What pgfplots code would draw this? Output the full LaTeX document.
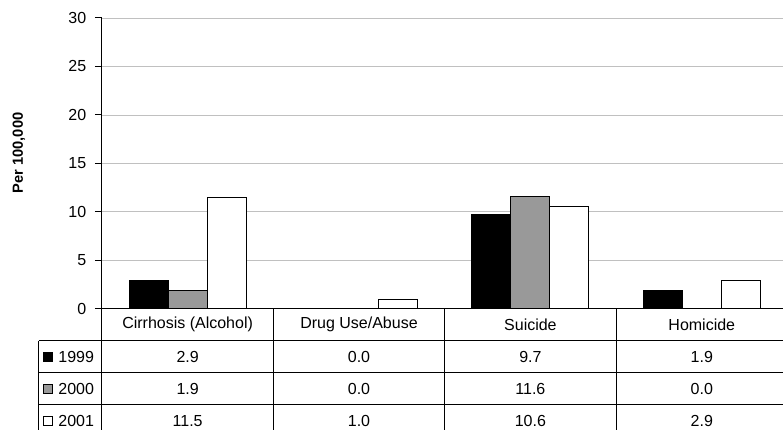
\documentclass[border=0pt]{standalone}
\usepackage{fontspec}
\setmainfont{Liberation Sans}
\usepackage{pgfplots}
\pgfplotsset{compat=1.18}
\definecolor{bargray}{HTML}{999999}
\definecolor{gridgray}{HTML}{C0C0C0}
\begin{document}
\begin{tikzpicture}
\begin{scope}[x=0.75pt,y=-0.75pt]
\useasboundingbox (0,0) rectangle (783,430);
\end{scope}
\begin{axis}[
 scale only axis, width=510.75pt, height=218.25pt,
 at={(76.5pt,-231.75pt)}, anchor=south west,
 ybar=0pt, bar width=0.2274,
 xmin=-0.5, xmax=3.4708, ymin=0, ymax=30,
 ytick={0,5,...,30}, xtick=\empty,
 axis x line*=bottom, axis y line*=left,
 ymajorgrids, grid style={gridgray, line width=0.6pt},
 tick align=outside, major tick length=5.25pt,
 y tick label style={font=\fontsize{12}{14}\selectfont, xshift=-3pt},
 /pgf/number format/assume math mode=true,
 ylabel={\bfseries Per 100,000},
 every axis y label/.style={at={(axis description cs:-0.1219,0.536)},rotate=90,anchor=center,font=\fontsize{11}{13}\selectfont},
 axis line style={black, line width=0.75pt},
 tick style={black, line width=0.75pt},
]
\addplot[fill=black, draw=black, line width=0.75pt] coordinates {(0,2.9) (1,0) (2,9.7) (3,1.9)};
\addplot[fill=bargray, draw=black, line width=0.75pt] coordinates {(0,1.9) (1,0) (2,11.6) (3,0)};
\addplot[fill=white, draw=black, line width=0.75pt] coordinates {(0,11.5) (1,1.0) (2,10.6) (3,2.9)};
\end{axis}
\begin{scope}[x=0.75pt,y=-0.75pt,line width=0.75pt,font=\fontsize{12}{14}\selectfont]
\draw (102,309) -- (102,430);
\foreach \x in {273.5,445,616.5} \draw (\x,309) -- (\x,430);
\foreach \y in {341,373,405} \draw (39,\y) -- (783,\y);
\draw (39,341) -- (39,430);
\node at (187.75,325) {Cirrhosis (Alcohol)};
\node at (359.25,325) {Drug Use/Abuse};
\node at (530.75,325) {Suicide};
\node at (702.25,325) {Homicide};
% legend keys
\filldraw[fill=black,draw=black] (44,352.5) rectangle (53,361.5);
\filldraw[fill=bargray,draw=black] (44,384.5) rectangle (53,393.5);
\filldraw[fill=white,draw=black] (44,416.5) rectangle (53,425.5);
\node[anchor=west,inner sep=0pt] at (58,357) {1999};
\node[anchor=west,inner sep=0pt] at (58,389) {2000};
\node[anchor=west,inner sep=0pt] at (58,421) {2001};
% values
\node at (187.75,357) {2.9};  \node at (359.25,357) {0.0}; \node at (530.75,357) {9.7};  \node at (702.25,357) {1.9};
\node at (187.75,389) {1.9};  \node at (359.25,389) {0.0}; \node at (530.75,389) {11.6}; \node at (702.25,389) {0.0};
\node at (187.75,421) {11.5}; \node at (359.25,421) {1.0}; \node at (530.75,421) {10.6}; \node at (702.25,421) {2.9};
\end{scope}
\end{tikzpicture}
\end{document}
